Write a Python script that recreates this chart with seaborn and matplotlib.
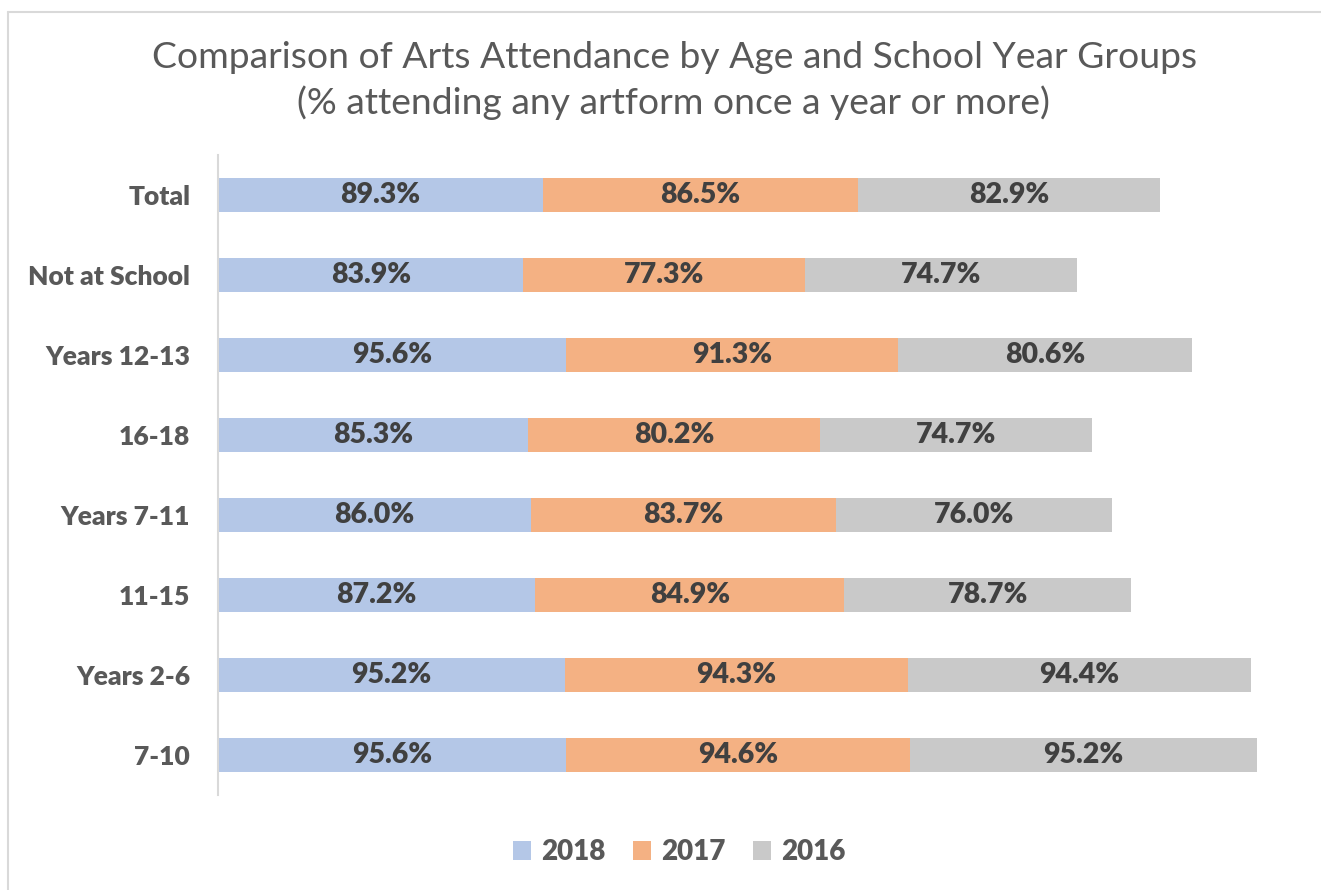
import matplotlib
matplotlib.use("Agg")
import matplotlib.pyplot as plt
from matplotlib.patches import Patch
from matplotlib.lines import Line2D
import seaborn as sns
import pandas as pd
import numpy as np

categories = ["Total", "Not at School", "Years 12-13", "16-18",
              "Years 7-11", "11-15", "Years 2-6", "7-10"]
v2018 = [89.3, 83.9, 95.6, 85.3, 86.0, 87.2, 95.2, 95.6]
v2017 = [86.5, 77.3, 91.3, 80.2, 83.7, 84.9, 94.3, 94.6]
v2016 = [82.9, 74.7, 80.6, 74.7, 76.0, 78.7, 94.4, 95.2]
years = ["2018", "2017", "2016"]
colors = ["#B4C7E7", "#F4B183", "#C9C9C9"]

sns.set_theme(style="white")
plt.rcParams['font.family'] = ['Lato', 'DejaVu Sans']

W, H = 1321, 890
fig = plt.figure(figsize=(W / 100, H / 100), dpi=100)
ax = fig.add_axes([218 / W, 95 / H, 1092 / W, 640 / H])

series = np.array([v2018, v2017, v2016])
cum = np.cumsum(series, axis=0)
for i in reversed(range(3)):
    df = pd.DataFrame({"cat": categories, "val": cum[i]})
    sns.barplot(data=df, x="val", y="cat", orient="h", color=colors[i],
                saturation=1, width=0.42, ax=ax, linewidth=0)

for j, cat in enumerate(categories):
    start = 0
    for i in range(3):
        v = series[i][j]
        ax.text(start + v / 2, j, f"{v:.1f}%", ha="center", va="center",
                fontsize=20.5, fontweight="heavy", color="#404040")
        start += v

ax.set_xlim(0, 300)
ax.set_ylim(len(categories) - 0.5, -0.5)
ax.set_xlabel("")
ax.set_ylabel("")
ax.set_xticks([])
for s in ["top", "right", "bottom"]:
    ax.spines[s].set_visible(False)
ax.spines["left"].set_color("#D9D9D9")
ax.spines["left"].set_linewidth(1.5)
ax.tick_params(axis="y", length=0, pad=20)
for lbl in ax.get_yticklabels():
    lbl.set_fontsize(19)
    lbl.set_fontweight("heavy")
    lbl.set_color("#595959")

fig.text(675 / W, 1 - 58 / H, "Comparison of Arts Attendance by Age and School Year Groups",
         ha="center", va="center", fontsize=26.8, color="#595959")
fig.text(673 / W, 1 - 103 / H, "(% attending any artform once a year or more)",
         ha="center", va="center", fontsize=26.8, color="#595959")

handles = [Patch(facecolor=c, edgecolor="none", label=y) for c, y in zip(colors, years)]
leg = fig.legend(handles=handles, loc="center", bbox_to_anchor=(679 / W, 1 - 852 / H),
                 ncol=3, frameon=False, handlelength=0.65, handleheight=0.65,
                 handletextpad=0.35, columnspacing=1.0,
                 prop={"size": 20, "weight": "heavy"})
for t in leg.get_texts():
    t.set_color("#595959")

fig.add_artist(Line2D([8 / W, 1], [1 - 12 / H, 1 - 12 / H], color="#D9D9D9", linewidth=1.5))
fig.add_artist(Line2D([8 / W, 8 / W], [0, 1 - 12 / H], color="#D9D9D9", linewidth=1.5))

fig.savefig("out.png", dpi=100)
